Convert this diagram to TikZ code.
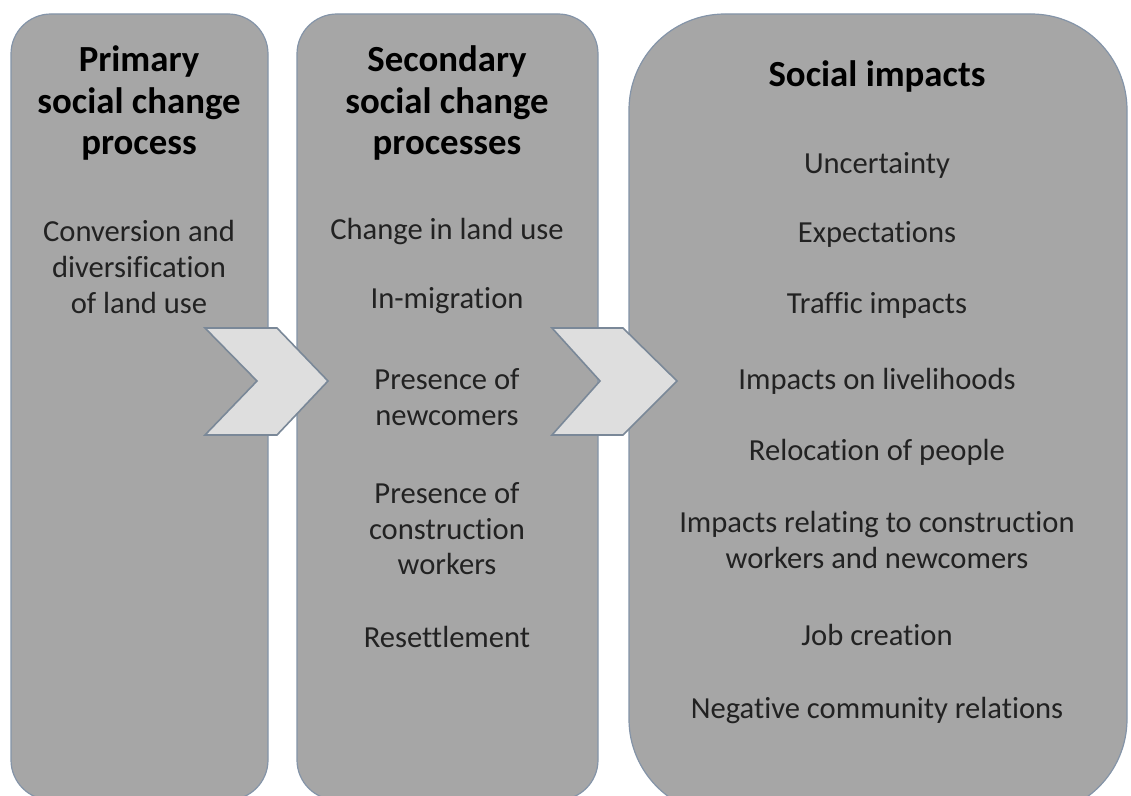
\documentclass[tikz,border=0pt]{standalone}
\usepackage{fontspec}
\setmainfont{Carlito}[Ligatures=NoCommon]
\definecolor{boxfill}{HTML}{A6A6A6}
\definecolor{boxline}{HTML}{8494A8}
\definecolor{chevfill}{HTML}{DEDEDE}
\definecolor{chevline}{HTML}{7A8898}
\definecolor{txt}{HTML}{222222}
\tikzset{
  panel/.style={fill=boxfill, draw=boxline, line width=0.6pt},
  chev/.style={fill=chevfill, draw=chevline, line width=0.8pt, line join=miter},
  title/.style={font=\fontsize{18.4}{20.8}\selectfont\bfseries, text=black, align=center, inner sep=0pt},
  item/.style={font=\fontsize{15.3}{17.8}\selectfont, text=txt, align=center, inner sep=0pt}
}
\begin{document}
\begin{tikzpicture}[x=0.5pt,y=-0.5pt]
\useasboundingbox (0,0) rectangle (1131,796);
\clip (0,0) rectangle (1131,796);
\fill[white] (0,0) rectangle (1131,796);
% panels
\draw[panel, rounded corners=20pt] (11,14) rectangle (268,800);
\draw[panel, rounded corners=20pt] (297,14) rectangle (598,800);
\draw[panel, rounded corners=48pt] (629,14) rectangle (1127,815);
% chevrons
\draw[chev] (205,328) -- (277,328) -- (328,381) -- (277,435) -- (205,435) -- (257,381) -- cycle;
\draw[chev] (552,328) -- (623,328) -- (677,381) -- (623,435) -- (552,435) -- (600,381) -- cycle;
% panel 1
\node[title] (t1) at (139,103) {Primary\\social change\\process};
\node[item] (a1) at (139,267) {Conversion and\\diversification\\of land use};
% panel 2
\node[title] (t2) at (447,103) {Secondary\\social change\\processes};
\node[item] (b1) at (447,232) {Change in land use};
\node[item] (b2) at (447,301) {In-migration};
\node[item] (b3) at (447,397) {Presence of\\newcomers};
\node[item] (b4) at (447,529) {Presence of\\construction\\workers};
\node[item] (b5) at (447,637) {Resettlement};
% panel 3
\node[title] (t3) at (877,76) {Social impacts};
\node[item] (c1) at (877,165) {Uncertainty};
\node[item] (c2) at (877,234) {Expectations};
\node[item] (c3) at (877,305) {Traffic impacts};
\node[item] (c4) at (877,381) {Impacts on livelihoods};
\node[item] (c5) at (877,452) {Relocation of people};
\node[item] (c6) at (877,540) {Impacts relating to construction\\workers and newcomers};
\node[item] (c7) at (877,635) {Job creation};
\node[item] (c8) at (877,711) {Negative community relations};
\end{tikzpicture}
\end{document}
